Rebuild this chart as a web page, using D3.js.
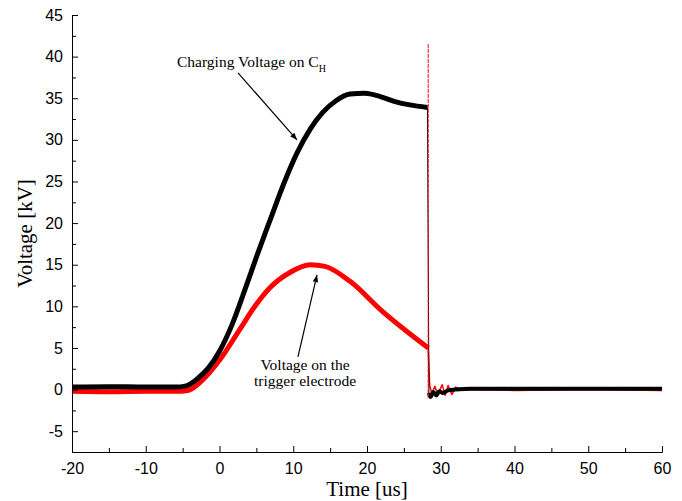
<!DOCTYPE html>
<html>
<head>
<meta charset="utf-8">
<script src="https://cdn.jsdelivr.net/npm/d3@7"></script>
<style>
  body { margin: 0; background: #fff; }
  .tick text { font-family: "Liberation Sans", Arial, sans-serif; font-size: 16px; fill: #000; }
  .domain, .tick line { stroke: #000; stroke-width: 1px; }
</style>
</head>
<body>
<script>
// charging voltage on C_H, before the breakdown (time us, kV)
var blackT = [-20, -15, -10, -6, -4.5, -3.0, -1.5, 0, 1.7, 3.45, 5.2, 7.0, 8.7, 10.5, 12.3, 14.0, 15.8, 17.7, 19.7, 21.8, 23.8, 25.8, 28.2];
var blackV = [0.3, 0.35, 0.3, 0.3, 0.45, 1.3, 2.6, 4.6, 7.8, 12.0, 16.4, 20.7, 24.7, 28.4, 31.3, 33.3, 34.7, 35.5, 35.6, 35.2, 34.6, 34.2, 33.9];
// after the breakdown
var blackAfterT = [28.4, 28.6, 29.0, 29.4, 29.8, 30.3, 31.0, 32.0, 34.0, 40, 50, 60];
var blackAfterV = [-0.4, -0.9, -0.3, -0.7, -0.2, -0.4, -0.1, 0.0, 0.1, 0.1, 0.1, 0.1];

// voltage on the trigger electrode
var redT = [-20, -15, -10, -6, -4.3, -2.6, 0.07, 2.8, 4.8, 6.8, 9.6, 12.3, 14.3, 17.7, 22.2, 25.8, 28.3];
var redV = [-0.2, -0.25, -0.2, -0.2, -0.1, 0.9, 3.6, 7.3, 10.0, 12.2, 14.1, 15.0, 14.8, 13.0, 9.3, 6.7, 5.0];
var redAfterT = [28.5, 28.8, 29.2, 29.6, 30.2, 30.6, 31.0, 31.5, 32.0, 33.0, 34.0, 40, 50, 60];
var redAfterV = [0.5, -0.5, 0.4, -0.6, 0.6, -0.7, 0.5, -0.6, 0.3, -0.1, 0.0, -0.1, 0.0, -0.1];
// breakdown spike on the trigger electrode
var spikeT = 28.3;
var spikeV = [-1.0, 41.5];

var xTicks = [-20, -10, 0, 10, 20, 30, 40, 50, 60];
var xMinor = [-15, -5, 5, 15, 25, 35, 45, 55];
var yTicks = [-5, 0, 5, 10, 15, 20, 25, 30, 35, 40, 45];
var yMinor = [-2.5, 2.5, 7.5, 12.5, 17.5, 22.5, 27.5, 32.5, 37.5, 42.5];

var width = 682, height = 501;

var svg = d3.select("body").append("svg")
  .attr("width", width)
  .attr("height", height);

var x = d3.scaleLinear().domain([-20, 60]).range([72, 662]);
var y = d3.scaleLinear().domain([-7.5, 45]).range([452, 15]);

function zip(ts, vs) {
  return ts.map(function(t, i) { return [t, vs[i]]; });
}

var line = d3.line()
  .x(function(d) { return x(d[0]); })
  .y(function(d) { return y(d[1]); })
  .curve(d3.curveMonotoneX);

var straight = d3.line()
  .x(function(d) { return x(d[0]); })
  .y(function(d) { return y(d[1]); });

// red trace
svg.append("path")
  .attr("d", line(zip(redT, redV)))
  .style("fill", "none").style("stroke", "#ff0000")
  .style("stroke-width", 5).style("stroke-linejoin", "round");
svg.append("path")
  .attr("d", straight([[redT[redT.length - 1], redV[redV.length - 1]], [redAfterT[0], redAfterV[0]]]))
  .style("fill", "none").style("stroke", "#ff0000").style("stroke-width", 1.5);
svg.append("path")
  .attr("d", straight(zip(redAfterT, redAfterV)))
  .style("fill", "none").style("stroke", "#ff0000")
  .style("stroke-width", 1.5).style("stroke-linejoin", "round");

// black trace
svg.append("path")
  .attr("d", line(zip(blackT, blackV)))
  .style("fill", "none").style("stroke", "#000")
  .style("stroke-width", 5).style("stroke-linejoin", "round");
svg.append("path")
  .attr("d", straight([[blackT[blackT.length - 1], blackV[blackV.length - 1]], [blackAfterT[0], blackAfterV[0]]]))
  .style("fill", "none").style("stroke", "#000").style("stroke-width", 1);
svg.append("path")
  .attr("d", line(zip(blackAfterT, blackAfterV)))
  .style("fill", "none").style("stroke", "#000")
  .style("stroke-width", 4).style("stroke-linejoin", "round");

// red spike
svg.append("line")
  .attr("x1", x(spikeT)).attr("x2", x(spikeT))
  .attr("y1", y(spikeV[0])).attr("y2", y(spikeV[1]))
  .style("stroke", "#ff0000").style("stroke-width", 1)
  .style("stroke-dasharray", "4,1");

// axes
var fmt = function(d) { return String(d); };
var xAxis = d3.axisBottom(x).tickValues(xTicks).tickFormat(fmt).tickSizeInner(-6).tickSizeOuter(0).tickPadding(11);
var xAxisMinor = d3.axisBottom(x).tickValues(xMinor).tickSizeInner(-4).tickSizeOuter(0).tickFormat("");
var yAxis = d3.axisLeft(y).tickValues(yTicks).tickFormat(fmt).tickSizeInner(-6).tickSizeOuter(0).tickPadding(9);
var yAxisMinor = d3.axisLeft(y).tickValues(yMinor).tickSizeInner(-4).tickSizeOuter(0).tickFormat("");

svg.append("g").attr("transform", "translate(0," + y(-7.5) + ")").call(xAxisMinor);
svg.append("g").attr("transform", "translate(0," + y(-7.5) + ")").call(xAxis);
svg.append("g").attr("transform", "translate(" + x(-20) + ",0)").call(yAxisMinor);
svg.append("g").attr("transform", "translate(" + x(-20) + ",0)").call(yAxis);

svg.selectAll(".tick text").attr("fill", "#000");

var serif = "'Liberation Serif', 'Times New Roman', serif";

// axis titles
svg.append("text")
  .attr("x", (x(-20) + x(60)) / 2)
  .attr("y", 496)
  .style("text-anchor", "middle")
  .style("font-family", serif)
  .style("font-size", "21px")
  .text("Time [us]");

svg.append("text")
  .attr("transform", "translate(32," + (y(-7.5) + y(45)) / 2 + ") rotate(-90)")
  .style("text-anchor", "middle")
  .style("font-family", serif)
  .style("font-size", "21px")
  .text("Voltage [kV]");

// annotations
var defs = svg.append("defs");
defs.append("marker")
  .attr("id", "arrow")
  .attr("viewBox", "0 0 10 10")
  .attr("refX", 10).attr("refY", 5)
  .attr("markerWidth", 9).attr("markerHeight", 7)
  .attr("markerUnits", "userSpaceOnUse")
  .attr("orient", "auto")
  .append("path")
  .attr("d", "M0,1 L10,5 L0,9 z")
  .style("fill", "#000");

var ann1 = svg.append("text")
  .attr("x", x(-5.76)).attr("y", y(38.77))
  .style("font-family", serif).style("font-size", "15.5px");
ann1.append("tspan").text("Charging Voltage on C");
ann1.append("tspan").attr("dy", 5).style("font-size", "10px").text("H");

svg.append("line")
  .attr("x1", x(2.51)).attr("y1", y(38.05))
  .attr("x2", x(10.5)).attr("y2", y(30.0))
  .style("stroke", "#000").style("stroke-width", 1.2)
  .attr("marker-end", "url(#arrow)");

svg.append("text")
  .attr("x", x(11.6)).attr("y", y(2.36))
  .style("text-anchor", "middle")
  .style("font-family", serif).style("font-size", "15.5px")
  .text("Voltage on the");
svg.append("text")
  .attr("x", x(11.6)).attr("y", y(0.43))
  .style("text-anchor", "middle")
  .style("font-family", serif).style("font-size", "15.5px")
  .text("trigger electrode");

svg.append("line")
  .attr("x1", x(10.64)).attr("y1", y(3.92))
  .attr("x2", x(13.22)).attr("y2", y(13.77))
  .style("stroke", "#000").style("stroke-width", 1.2)
  .attr("marker-end", "url(#arrow)");
</script>
</body>
</html>
